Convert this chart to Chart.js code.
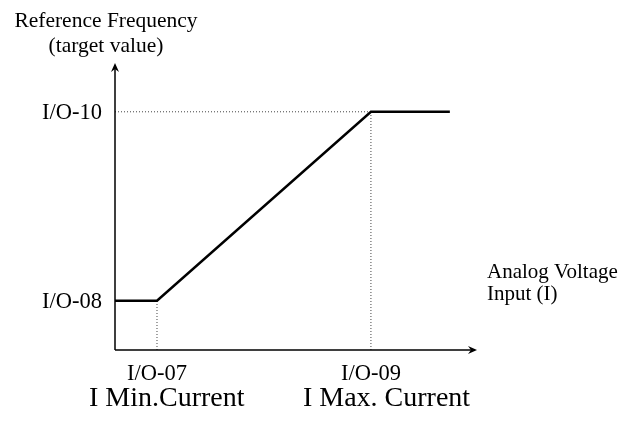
<!DOCTYPE html>
<html>
<head>
<meta charset="utf-8">
<script src="https://cdn.jsdelivr.net/npm/chart.js@4/dist/chart.umd.min.js"></script>
<style>
  html, body { margin: 0; padding: 0; background: #fff; }
  #wrap { width: 624px; height: 434px; }
</style>
</head>
<body>
<div id="wrap"><canvas id="freq_chart" width="624" height="434"></canvas></div>
<script>
// curve: reference frequency vs analog input (arbitrary 0-100 units)
const curveX = [0, 11.6, 70.7, 92.5];
const curveY = [17.2, 17.2, 83, 83];

// tick positions and labels
const xTickValues = [11.6, 70.7];
const xTickLabels = ['I/O-07', 'I/O-09'];
const xSubLabels = ['I Min.Current', 'I Max. Current'];
const yTickValues = [17.2, 83];
const yTickLabels = ['I/O-08', 'I/O-10'];

const yTitle = ['Reference Frequency', '(target value)'];
const xTitle = ['Analog Voltage', 'Input (I)'];

const serif = '"Liberation Serif", "Times New Roman", serif';

function toPoints(xs, ys) {
    return xs.map(function (x, i) { return { x: x, y: ys[i] }; });
}

// dotted guide lines from the break points to the axes
const guideSets = [
    toPoints([xTickValues[0], xTickValues[0]], [0, yTickValues[0]]),
    toPoints([xTickValues[1], xTickValues[1]], [0, yTickValues[1]]),
    toPoints([0, xTickValues[1]], [yTickValues[1], yTickValues[1]])
];

const guideDatasets = guideSets.map(function (pts) {
    return {
        data: pts,
        borderColor: '#444',
        borderWidth: 1,
        borderDash: [1, 2],
        pointRadius: 0,
        fill: false
    };
});

// axes with arrows + text labels, drawn off the scales
const axisPlugin = {
    id: 'axisPlugin',
    afterDraw: function (chart) {
        const c = chart.ctx;
        const xs = chart.scales.x;
        const ys = chart.scales.y;
        const x0 = xs.getPixelForValue(0);
        const x1 = xs.getPixelForValue(100);
        const y0 = ys.getPixelForValue(0);
        const y1 = ys.getPixelForValue(100);

        c.save();
        c.strokeStyle = '#000';
        c.fillStyle = '#000';
        c.lineWidth = 1.5;
        c.beginPath();
        c.moveTo(x0, y0);
        c.lineTo(x0, y1 + 2);
        c.moveTo(x0, y0);
        c.lineTo(x1 - 2, y0);
        c.stroke();

        // arrow heads
        c.beginPath();
        c.moveTo(x0, y1);
        c.lineTo(x0 - 4, y1 + 9);
        c.lineTo(x0, y1 + 6);
        c.lineTo(x0 + 4, y1 + 9);
        c.closePath();
        c.fill();
        c.beginPath();
        c.moveTo(x1, y0);
        c.lineTo(x1 - 9, y0 - 4);
        c.lineTo(x1 - 6, y0);
        c.lineTo(x1 - 9, y0 + 4);
        c.closePath();
        c.fill();

        // y tick labels
        c.font = '22.5px ' + serif;
        c.textAlign = 'right';
        c.textBaseline = 'middle';
        yTickLabels.forEach(function (t, i) {
            c.fillText(t, x0 - 13, ys.getPixelForValue(yTickValues[i]) + 1);
        });

        // x tick labels
        c.textAlign = 'center';
        xTickLabels.forEach(function (t, i) {
            c.fillText(t, xs.getPixelForValue(xTickValues[i]), y0 + 24);
        });

        c.font = '28px ' + serif;
        c.textAlign = 'left';
        xSubLabels.forEach(function (t, i) {
            c.fillText(t, xs.getPixelForValue(xTickValues[i]) - 68, y0 + 49);
        });

        // axis titles
        c.font = '21.5px ' + serif;
        c.textAlign = 'center';
        c.fillText(yTitle[0], x0 - 9, 21);
        c.fillText(yTitle[1], x0 - 9, 46);

        c.textAlign = 'left';
        c.font = '21px ' + serif;
        c.fillText(xTitle[0], x1 + 10, y0 - 78);
        c.fillText(xTitle[1], x1 + 10, y0 - 56);
        c.restore();
    }
};

let ctx = document.getElementById('freq_chart').getContext('2d');
const freqChart = new Chart(ctx, {
    type: 'line',
    data: {
        datasets: [{
            data: toPoints(curveX, curveY),
            borderColor: '#000',
            borderWidth: 2.5,
            pointRadius: 0,
            tension: 0,
            fill: false
        }].concat(guideDatasets)
    },
    options: {
        responsive: false,
        animation: false,
        clip: false,
        layout: { padding: { left: 115, right: 147, top: 63, bottom: 84 } },
        plugins: {
            legend: { display: false },
            tooltip: { enabled: false }
        },
        scales: {
            x: { type: 'linear', min: 0, max: 100, display: false },
            y: { type: 'linear', min: 0, max: 100, display: false }
        }
    },
    plugins: [axisPlugin]
});
</script>
</body>
</html>
